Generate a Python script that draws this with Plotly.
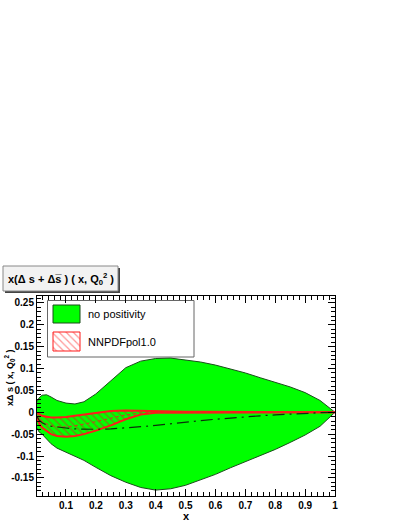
import plotly.graph_objects as go

# ---------------- data ----------------
x = [0.003, 0.01, 0.02, 0.035, 0.05, 0.07, 0.1, 0.13, 0.16, 0.2, 0.25, 0.3, 0.35,
     0.4, 0.45, 0.5, 0.55, 0.6, 0.65, 0.7, 0.75, 0.8, 0.85, 0.9, 0.95, 1.0]
green_upper = [0.024, 0.033, 0.039, 0.040, 0.035, 0.027, 0.021, 0.019, 0.024, 0.042,
               0.072, 0.102, 0.117, 0.123, 0.124, 0.120, 0.115, 0.108, 0.099, 0.090,
               0.079, 0.068, 0.058, 0.045, 0.027, 0.0]
green_lower = [-0.036, -0.045, -0.050, -0.062, -0.072, -0.082, -0.091, -0.100, -0.110,
               -0.126, -0.145, -0.160, -0.172, -0.178, -0.175, -0.167, -0.155, -0.142,
               -0.127, -0.113, -0.099, -0.085, -0.069, -0.052, -0.032, 0.0]
green_central = [-0.010, -0.018, -0.024, -0.029, -0.032, -0.034, -0.036, -0.038, -0.039,
                 -0.039, -0.038, -0.036, -0.033, -0.030, -0.026, -0.022, -0.019, -0.016,
                 -0.013, -0.011, -0.008, -0.006, -0.004, -0.002, -0.001, 0.0]
red_upper = [-0.002, -0.005, -0.008, -0.010, -0.012, -0.012, -0.011, -0.008, -0.005,
             -0.001, 0.003, 0.004, 0.003, 0.002, 0.0015, 0.0013, 0.0012, 0.0011, 0.001,
             0.0009, 0.0008, 0.0007, 0.0005, 0.0004, 0.0002, 0.0]
red_lower = [-0.012, -0.025, -0.035, -0.043, -0.050, -0.054, -0.056, -0.054, -0.050,
             -0.042, -0.030, -0.016, -0.005, -0.001, -0.001, -0.0009, -0.0008, -0.0007,
             -0.0006, -0.0005, -0.0004, -0.0003, -0.0002, -0.0001, -0.0001, 0.0]
red_central = [(a + b) / 2 for a, b in zip(red_upper, red_lower)]

x_tickvals = [0.1, 0.2, 0.3, 0.4, 0.5, 0.6, 0.7, 0.8, 0.9, 1.0]
x_ticktext = ["0.1", "0.2", "0.3", "0.4", "0.5", "0.6", "0.7", "0.8", "0.9", "1"]
y_tickvals = [-0.15, -0.1, -0.05, 0, 0.05, 0.1, 0.15, 0.2, 0.25]
y_ticktext = ["-0.15", "-0.1", "-0.05", "0", "0.05", "0.1", "0.15", "0.2", "0.25"]
legend_labels = ["no positivity", "NNPDFpol1.0"]

# ---------------- layout geometry (pixels) ----------------
W, H = 403, 522
L, R, T, B = 37, 335, 296, 496
FONT = "Liberation Sans"

def px(xp):
    return (xp - L) / (R - L)

def py(yp):
    return (B - yp) / (B - T)

fig = go.Figure()

# green band
fig.add_trace(go.Scatter(x=x, y=green_lower, mode="lines", line=dict(color="#1a4d1a", width=1),
                         showlegend=False, hoverinfo="skip"))
fig.add_trace(go.Scatter(x=x, y=green_upper, mode="lines", line=dict(color="#1a4d1a", width=1),
                         fill="tonexty", fillcolor="#00ff00", showlegend=False, hoverinfo="skip"))
# red hatched band
fig.add_trace(go.Scatter(x=x, y=red_lower, mode="lines", line=dict(color="#ff1a1a", width=2),
                         showlegend=False, hoverinfo="skip"))
fig.add_trace(go.Scatter(x=x, y=red_upper, mode="lines", line=dict(color="#ff1a1a", width=2),
                         fill="tonexty", fillcolor="rgba(0,0,0,0)",
                         fillpattern=dict(shape="\\", fgcolor="#c83020", bgcolor="rgba(0,0,0,0)",
                                          size=5, solidity=0.3),
                         showlegend=False, hoverinfo="skip"))
fig.add_trace(go.Scatter(x=x, y=red_central, mode="lines", line=dict(color="#e03020", width=1, dash="dot"),
                         showlegend=False, hoverinfo="skip"))
# central dash-dot line
fig.add_trace(go.Scatter(x=x, y=green_central, mode="lines",
                         line=dict(color="#0a300a", width=1.2, dash="12px,5px,2px,5px"),
                         showlegend=False, hoverinfo="skip"))

# legend swatches on an overlay pixel axis
fig.add_trace(go.Scatter(x=[53, 80, 80, 53, 53], y=[305, 305, 323, 323, 305], xaxis="x2", yaxis="y2",
                         mode="lines", fill="toself", fillcolor="#00ff00",
                         line=dict(color="#1a4d1a", width=1), showlegend=False, hoverinfo="skip"))
fig.add_trace(go.Scatter(x=[53, 80, 80, 53, 53], y=[332, 332, 351, 351, 332], xaxis="x2", yaxis="y2",
                         mode="lines", fill="toself", fillcolor="rgba(0,0,0,0)",
                         fillpattern=dict(shape="\\", fgcolor="#ff3030", bgcolor="white", size=5, solidity=0.25),
                         line=dict(color="#ff1a1a", width=1), showlegend=False, hoverinfo="skip"))

shapes = [
    # legend box
    dict(type="rect", xref="paper", yref="paper", x0=px(47.5), x1=px(194), y0=py(357), y1=py(300.5),
         fillcolor="white", line=dict(color="#666666", width=1), layer="below"),
    # title box shadow + box
    dict(type="rect", xref="paper", yref="paper", x0=px(5), x1=px(120), y0=py(293), y1=py(268),
         fillcolor="#444444", line=dict(width=0)),
    dict(type="rect", xref="paper", yref="paper", x0=px(3), x1=px(118), y0=py(291), y1=py(266),
         fillcolor="#f2f2f2", line=dict(color="#888888", width=1)),
]

annotations = [
    dict(xref="paper", yref="paper", x=px(60.5), y=py(278.5), xanchor="center", yanchor="middle",
         text="<b>x(Δ s + Δs\u0305 ) ( x, Q<sub>0</sub><sup>2</sup> )</b>", showarrow=False,
         font=dict(family=FONT, size=11, color="black")),
    dict(xref="paper", yref="paper", x=px(86), y=py(314), xanchor="left", yanchor="middle",
         text=legend_labels[0], showarrow=False, font=dict(family=FONT, size=11, color="black")),
    dict(xref="paper", yref="paper", x=px(86), y=py(341.5), xanchor="left", yanchor="middle",
         text=legend_labels[1], showarrow=False, font=dict(family=FONT, size=11, color="black")),
    dict(xref="paper", yref="paper", x=px(9), y=py(378), xanchor="center", yanchor="middle",
         text="<b>xΔ s ( x, Q<sub>0</sub><sup>2</sup> )</b>", textangle=-90, showarrow=False,
         font=dict(family=FONT, size=9, color="black")),
    dict(xref="paper", yref="paper", x=px(186), y=py(515.5), xanchor="center", yanchor="middle",
         text="<b>x</b>", showarrow=False, font=dict(family=FONT, size=11, color="black")),
]

fig.update_layout(
    width=W, height=H,
    margin=dict(l=L, r=W - R, t=T, b=H - B, pad=0, autoexpand=False),
    paper_bgcolor="white", plot_bgcolor="white",
    showlegend=False,
    shapes=shapes, annotations=annotations,
    xaxis=dict(range=[0.003, 1.0], tickvals=x_tickvals, ticktext=x_ticktext, automargin=False,
               ticks="inside", ticklen=7, tickcolor="black", tickwidth=1,
               minor=dict(dtick=0.02, tick0=0, ticks="inside", ticklen=4, tickcolor="black"),
               showline=True, linecolor="black", linewidth=1, mirror="ticks",
               showgrid=False, zeroline=False,
               tickfont=dict(family=FONT, size=10, color="black", weight="bold")),
    yaxis=dict(range=[-0.1915, 0.266], tickvals=y_tickvals, ticktext=y_ticktext, automargin=False,
               ticks="inside", ticklen=7, tickcolor="black", tickwidth=1,
               minor=dict(dtick=0.01, tick0=0, ticks="inside", ticklen=4, tickcolor="black"),
               showline=True, linecolor="black", linewidth=1, mirror="ticks",
               showgrid=False, zeroline=False,
               tickfont=dict(family=FONT, size=10, color="black", weight="bold")),
    xaxis2=dict(overlaying="x", range=[L, R], visible=False, fixedrange=True, automargin=False),
    yaxis2=dict(overlaying="y", range=[B, T], visible=False, fixedrange=True, automargin=False),
)

fig.write_html("out.html", config={"displayModeBar": False},
               post_script="document.body.style.margin='0px';document.body.style.overflow='hidden';")
